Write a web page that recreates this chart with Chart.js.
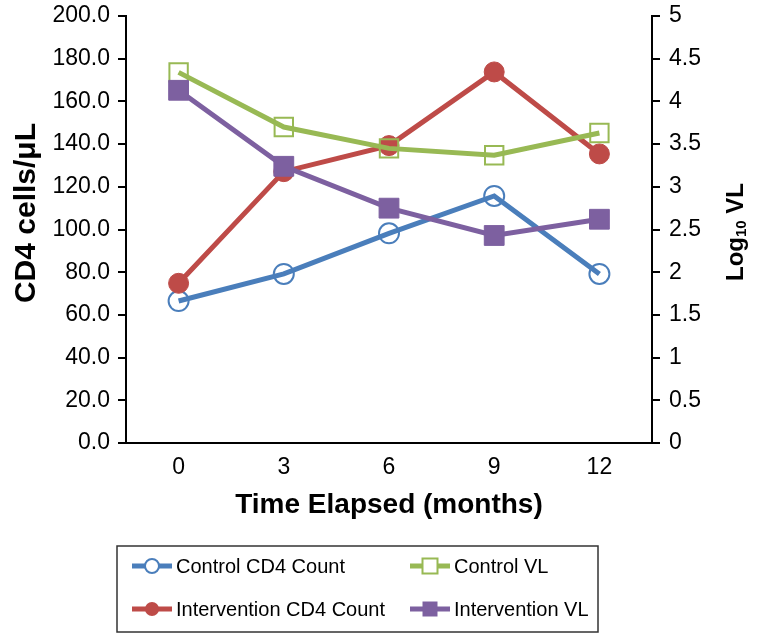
<!DOCTYPE html>
<html>
<head>
<meta charset="utf-8">
<script src="https://cdn.jsdelivr.net/npm/chart.js@4.4.1/dist/chart.umd.min.js"></script>
<style>
  html, body { margin: 0; padding: 0; background: #fff; }
  #wrap { width: 761px; height: 640px; }
</style>
</head>
<body>
<div id="wrap"><canvas id="mycanvas" width="761" height="640"></canvas></div>
<script>
// data
var months = ['0', '3', '6', '9', '12'];
var controlCD4 = [66.5, 79.2, 98.2, 115.7, 79.2];
var interventionCD4 = [74.8, 127.1, 139.3, 173.8, 135.4];
var controlVL = [4.34, 3.70, 3.45, 3.37, 3.63];
var interventionVL = [4.13, 3.24, 2.75, 2.43, 2.62];
var seriesNames = ['Control CD4 Count', 'Control VL', 'Intervention CD4 Count', 'Intervention VL'];

var FONT = '"Liberation Sans", Arial, Helvetica, sans-serif';
var blue = '#4A7EBB', red = '#BE4B48', green = '#98B954', purple = '#7D60A0';

var chartdata = {
  labels: months,
  datasets: [
    {
      label: seriesNames[0], data: controlCD4, yAxisID: 'y', order: 3,
      borderColor: blue, borderWidth: 5, pointStyle: 'circle', pointRadius: 10,
      pointBackgroundColor: 'rgba(0,0,0,0)', pointBorderColor: blue, pointBorderWidth: 2
    },
    {
      label: seriesNames[1], data: controlVL, yAxisID: 'y2', order: 1,
      borderColor: green, borderWidth: 5, pointStyle: 'rect', pointRadius: 13,
      pointBackgroundColor: 'rgba(0,0,0,0)', pointBorderColor: green, pointBorderWidth: 2
    },
    {
      label: seriesNames[2], data: interventionCD4, yAxisID: 'y', order: 2,
      borderColor: red, borderWidth: 5, pointStyle: 'circle', pointRadius: 10,
      pointBackgroundColor: red, pointBorderColor: red, pointBorderWidth: 1
    },
    {
      label: seriesNames[3], data: interventionVL, yAxisID: 'y2', order: 0,
      borderColor: purple, borderWidth: 5, pointStyle: 'rect', pointRadius: 14,
      pointBackgroundColor: purple, pointBorderColor: purple, pointBorderWidth: 1
    }
  ]
};

// titles and boxed legend drawn on the canvas
var extras = {
  id: 'extras',
  afterDraw: function (chart) {
    var ctx = chart.ctx;
    var area = chart.chartArea;
    ctx.save();
    ctx.fillStyle = '#000';

    // x title
    ctx.font = 'bold 28px ' + FONT;
    ctx.textAlign = 'center';
    ctx.textBaseline = 'middle';
    ctx.fillText('Time Elapsed (months)', (area.left + area.right) / 2, 505);

    // left title
    ctx.save();
    ctx.translate(27, 213);
    ctx.rotate(-Math.PI / 2);
    ctx.font = 'bold 30px ' + FONT;
    ctx.fillText('CD4 cells/\u03bcL', 0, 0);
    ctx.restore();

    // right title with subscript
    ctx.save();
    ctx.translate(736, 232);
    ctx.rotate(-Math.PI / 2);
    ctx.textAlign = 'left';
    ctx.textBaseline = 'middle';
    var big = 'bold 24px ' + FONT, small = 'bold 15px ' + FONT;
    ctx.font = big;
    var w1 = ctx.measureText('Log').width, w3 = ctx.measureText(' VL').width;
    ctx.font = small;
    var w2 = ctx.measureText('10').width;
    var x0 = -(w1 + w2 + w3) / 2;
    ctx.font = big;
    ctx.fillText('Log', x0, 0);
    ctx.font = small;
    ctx.fillText('10', x0 + w1, 6);
    ctx.font = big;
    ctx.fillText(' VL', x0 + w1 + w2, 0);
    ctx.restore();

    // legend box
    ctx.strokeStyle = '#333';
    ctx.lineWidth = 1.5;
    ctx.strokeRect(117, 546, 481, 86);
    var slots = [[132, 566], [410, 566], [132, 609], [410, 609]];
    ctx.font = '20px ' + FONT;
    ctx.textAlign = 'left';
    chart.data.datasets.forEach(function (ds, i) {
      var sx = slots[i][0], sy = slots[i][1];
      ctx.strokeStyle = ds.borderColor;
      ctx.lineWidth = 5;
      ctx.beginPath();
      ctx.moveTo(sx, sy);
      ctx.lineTo(sx + 40, sy);
      ctx.stroke();
      var cx = sx + 20;
      var filled = ds.pointBackgroundColor !== 'rgba(0,0,0,0)';
      ctx.lineWidth = 2;
      ctx.beginPath();
      if (ds.pointStyle === 'circle') {
        ctx.arc(cx, sy, 7, 0, Math.PI * 2);
      } else {
        ctx.rect(cx - 7.5, sy - 7.5, 15, 15);
      }
      if (filled) {
        ctx.fillStyle = ds.pointBackgroundColor;
        ctx.fill();
      } else {
        ctx.fillStyle = '#fff';
        ctx.fill();
        ctx.stroke();
      }
      ctx.fillStyle = '#000';
      ctx.fillText(ds.label, sx + 44, sy + 1);
    });
    ctx.restore();
  }
};

var tickFont = { family: FONT, size: 23 };

function fitY(width) {
  return function (s) {
    s.width = width;
    s.paddingTop = 16;
    s.paddingBottom = 0;
  };
}

var ctx = document.getElementById('mycanvas');
var lineGraph = new Chart(ctx, {
  type: 'line',
  data: chartdata,
  plugins: [extras],
  options: {
    responsive: false,
    devicePixelRatio: 1,
    animation: false,
    layout: { padding: 0 },
    plugins: { legend: { display: false }, tooltip: { enabled: false } },
    elements: { line: { tension: 0 } },
    scales: {
      x: {
        type: 'category',
        offset: true,
        grid: { display: false },
        border: { display: true, color: '#000', width: 2 },
        ticks: { font: tickFont, color: '#000', padding: 3, maxRotation: 0 },
        afterFit: function (s) { s.height = 197; s.paddingLeft = 0; s.paddingRight = 0; }
      },
      y: {
        position: 'left',
        min: 0, max: 200,
        grid: { drawOnChartArea: false, color: '#000', lineWidth: 2, tickLength: 8 },
        border: { display: true, color: '#000', width: 2 },
        ticks: {
          stepSize: 20, font: tickFont, color: '#000', padding: 8,
          callback: function (v) { return v.toFixed(1); }
        },
        afterFit: fitY(126)
      },
      y2: {
        position: 'right',
        min: 0, max: 5,
        grid: { drawOnChartArea: false, color: '#000', lineWidth: 2, tickLength: 8 },
        border: { display: true, color: '#000', width: 2 },
        ticks: {
          stepSize: 0.5, font: tickFont, color: '#000', padding: 9,
          callback: function (v) { return String(v); }
        },
        afterFit: fitY(109)
      }
    }
  }
});
</script>
</body>
</html>
